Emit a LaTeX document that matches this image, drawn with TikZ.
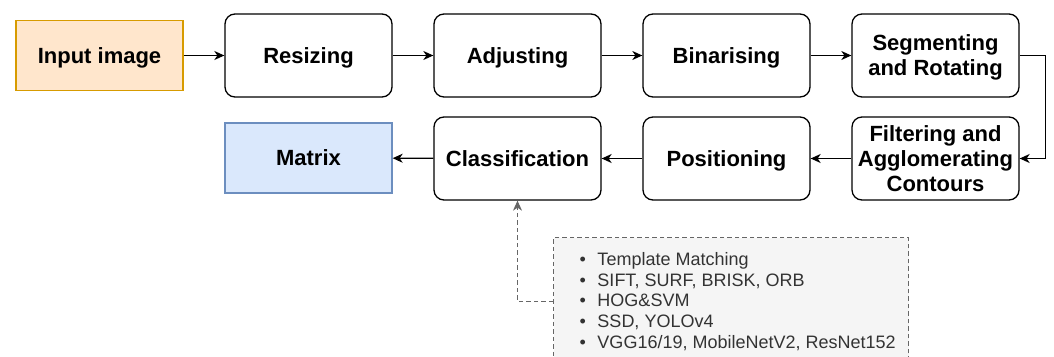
\documentclass[tikz,border=0pt]{standalone}
\usepackage{fontspec}
\setmainfont{Liberation Sans}
\usepackage{tikz}
\usetikzlibrary{arrows.meta,positioning}
\definecolor{inorange}{HTML}{FFE6CC}
\definecolor{inorangeline}{HTML}{D79B00}
\definecolor{outblue}{HTML}{DAE8FC}
\definecolor{outblueline}{HTML}{6C8EBF}
\definecolor{notefill}{HTML}{F5F5F5}
\definecolor{noteline}{HTML}{666666}
\definecolor{notetext}{HTML}{333333}
\tikzset{
  >={Stealth[length=10pt,width=9pt,inset=3pt]},
  % steg
  stage/.style={draw=black,fill=white,rounded corners=10pt,line width=1.3pt,
                minimum width=167pt,minimum height=83pt,inner sep=2pt,align=center,
                text depth=0pt,font=\fontsize{22}{25}\selectfont\bfseries},
  inbox/.style={stage,rounded corners=0pt,minimum height=70pt,fill=inorange,draw=inorangeline},
  outbox/.style={stage,rounded corners=0pt,minimum height=70pt,fill=outblue,draw=outblueline},
  notebox/.style={draw=noteline,fill=notefill,text=notetext,line width=1pt,
                  dash pattern=on 4.5pt off 3pt,anchor=north west,align=left,
                  inner xsep=13pt,inner ysep=15pt,
                  font=\fontsize{18}{20.7}\selectfont},
  % pilar
  fe/.style={->,draw=black,line width=1.3pt},
  ne/.style={->,draw=noteline,line width=1pt,dash pattern=on 4.5pt off 3pt},
}
\newcommand{\itm}[1]{\hspace*{13pt}\makebox[18pt][l]{\textbullet}#1}
\begin{document}
\begin{tikzpicture}[x=1pt,y=-1pt]
  \clip (0,0) rectangle (1054,356);
  \node[inbox] (input) at (99.5,55.5) {Input image};
  \node[stage] (resize) at (308.5,55.5) {Resizing};
  \node[stage] (adjust) at (517.5,55.5) {Adjusting};
  \node[stage] (binar) at (726.5,55.5) {Binarising};
  \node[stage] (segrot) at (935.5,55.5) {Segmenting\\and Rotating};
  \node[stage] (filtagg) at (935.5,158.5) {Filtering and\\Agglomerating\\Contours};
  \node[stage] (posit) at (726.5,158.5) {Positioning};
  \node[stage] (classif) at (517.5,158.5) {Classification};
  \node[outbox] (matrix) at (308.5,158) {Matrix};
  \node[notebox] (notes) at (553,237) {\itm{Template Matching}\\\itm{SIFT, SURF, BRISK, ORB}\\
    \itm{HOG\&SVM}\\\itm{SSD, YOLOv4}\\\itm{VGG16/19, MobileNetV2, ResNet152}};
  \draw[fe] (input) -- (resize);
  \draw[fe] (resize) -- (adjust);
  \draw[fe] (adjust) -- (binar);
  \draw[fe] (binar) -- (segrot);
  \draw[fe] (segrot.east) -- ++(26,0) |- (filtagg.east);
  \draw[fe] (filtagg) -- (posit);
  \draw[fe] (posit) -- (classif);
  \draw[fe] (classif) -- (matrix);
  \draw[ne] (notes.west) -| (classif.south);
\end{tikzpicture}
\end{document}
